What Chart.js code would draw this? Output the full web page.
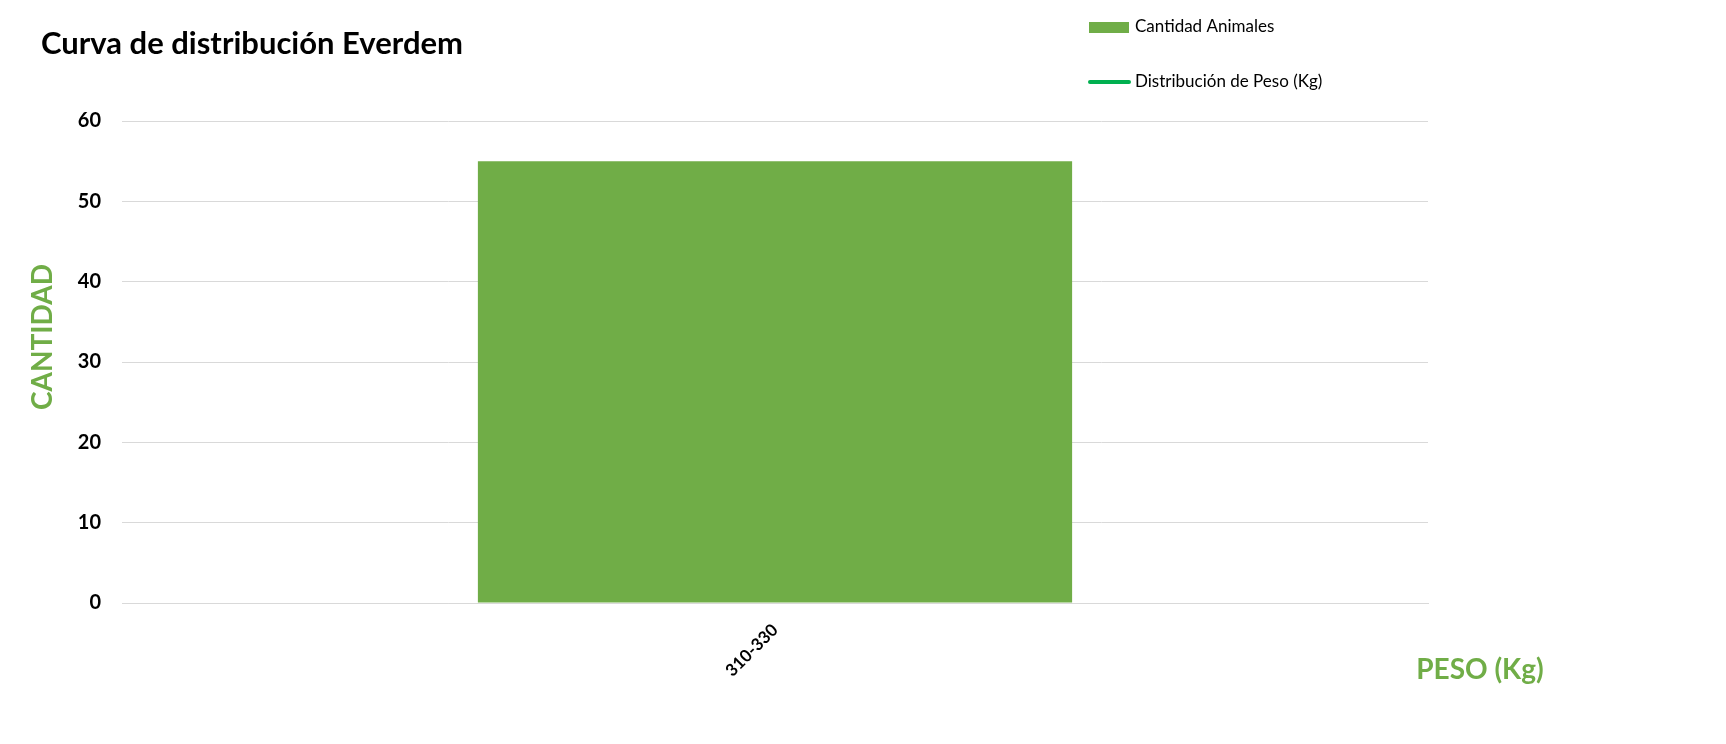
<!DOCTYPE html>
<html>
<head>
<meta charset="utf-8">
<title>Curva de distribución Everdem</title>
<script src="https://cdn.jsdelivr.net/npm/chart.js@4.4.1/dist/chart.umd.min.js"></script>
<style>
    html, body { margin: 0; padding: 0; background: #fff; }
    #wrap { width: 1726px; height: 744px; position: relative; }
</style>
</head>
<body>
<div id="wrap"><canvas id="distChart"></canvas></div>
<script>
// Datos
const categorias = ['310-330'];
const cantidadAnimales = [55];
const distribucionPeso = [null];
const yMin = 0;
const yMax = 60;
const yPaso = 10;

const VERDE_BARRA = '#70AD47';
const VERDE_LINEA = '#00B050';
const FUENTE = 'Lato, "Open Sans", sans-serif';

// Title, legend and axis titles drawn on the canvas
const textosExtra = {
    id: 'textosExtra',
    afterDraw(chart) {
        const ctx = chart.ctx;
        ctx.save();

        // Title
        ctx.fillStyle = '#000';
        ctx.font = 'bold 31px ' + FUENTE;
        ctx.textAlign = 'left';
        ctx.textBaseline = 'alphabetic';
        ctx.fillText('Curva de distribución Everdem', 41, 54);

        // Legend
        const ds = chart.data.datasets;
        ctx.font = '17px ' + FUENTE;
        ctx.textBaseline = 'middle';
        ds.forEach((d, i) => {
            const y = i === 0 ? 27 : 82;
            if (d.type === 'line') {
                ctx.strokeStyle = d.borderColor;
                ctx.lineWidth = 4;
                ctx.lineCap = 'round';
                ctx.beginPath();
                ctx.moveTo(1090, y);
                ctx.lineTo(1129, y);
                ctx.stroke();
            } else {
                ctx.fillStyle = d.backgroundColor;
                ctx.fillRect(1089, y - 5, 40, 11);
            }
            ctx.fillStyle = '#000';
            ctx.fillText(d.label, 1135, y);
        });

        // Axis titles
        ctx.fillStyle = VERDE_BARRA;
        ctx.font = 'bold 28px ' + FUENTE;
        ctx.textAlign = 'center';
        ctx.textBaseline = 'middle';
        ctx.fillText('PESO (Kg)', 1480, 670);

        ctx.translate(43, 337);
        ctx.rotate(-Math.PI / 2);
        ctx.fillText('CANTIDAD', 0, 0);

        ctx.restore();
    }
};

const ctx = document.getElementById('distChart').getContext('2d');
const distChart = new Chart(ctx, {
    type: 'bar',
    data: {
        labels: categorias,
        datasets: [
            {
                type: 'bar',
                label: 'Cantidad Animales',
                data: cantidadAnimales,
                backgroundColor: VERDE_BARRA,
                barPercentage: 0.455,
                categoryPercentage: 1,
                order: 2
            },
            {
                type: 'line',
                label: 'Distribución de Peso (Kg)',
                data: distribucionPeso,
                borderColor: VERDE_LINEA,
                backgroundColor: VERDE_LINEA,
                borderWidth: 3,
                pointRadius: 0,
                order: 1
            }
        ]
    },
    options: {
        responsive: true,
        maintainAspectRatio: false,
        animation: false,
        layout: {
            padding: { top: 121, right: 298, bottom: 0, left: 0 }
        },
        plugins: {
            legend: { display: false },
            tooltip: { enabled: false }
        },
        scales: {
            x: {
                grid: { display: false, drawTicks: false },
                border: { display: true, color: '#d9d9d9', width: 1 },
                ticks: {
                    color: '#000',
                    font: { family: FUENTE, size: 17, weight: 'bold' },
                    minRotation: 45,
                    maxRotation: 45,
                    padding: 17
                },
                afterFit(scale) { scale.height = 141; }
            },
            y: {
                min: yMin,
                max: yMax,
                ticks: {
                    stepSize: yPaso,
                    color: '#000',
                    font: { family: FUENTE, size: 20, weight: 'bold' },
                    padding: 21
                },
                grid: { color: '#d9d9d9', lineWidth: 1, drawTicks: false },
                border: { display: false },
                afterFit(scale) { scale.width = 122; }
            }
        }
    },
    plugins: [textosExtra]
});
</script>
</body>
</html>
